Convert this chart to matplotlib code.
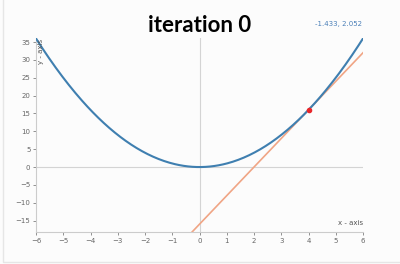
import numpy as np
import matplotlib.pyplot as plt

x_ticks = [-6, -5, -4, -3, -2, -1, 0, 1, 2, 3, 4, 5, 6]
y_ticks = [-15, -10, -5, 0, 5, 10, 15, 20, 25, 30, 35]
point_x = 4
title = 'iteration 0'
corner_text = '-1.433, 2.052'


def f(x):
    return x ** 2


def df(x):
    return 2 * x


def main():
    fig = plt.figure(figsize=(4, 2.64), dpi=100)
    fig.patch.set_facecolor('#fcfcfc')
    ax = fig.add_axes([0.09, 0.121, 0.8175, 0.736])
    ax.set_facecolor('#fcfcfc')

    xs = np.linspace(-6, 6, 300)
    ax.plot(xs, f(xs), color='#3f7fb0', lw=1.5, zorder=3)
    tangent = f(point_x) + df(point_x) * (xs - point_x)
    ax.plot(xs, tangent, color='#f0a585', lw=1.2, zorder=2)
    ax.plot([point_x], [f(point_x)], 'o', color='#e8262a', ms=3, zorder=4)

    ax.axhline(0, color='#d4d4d4', lw=0.8, zorder=1)
    ax.axvline(0, color='#d4d4d4', lw=0.8, zorder=1)

    ax.set_xlim(-6, 6)
    ax.set_ylim(-18.2, 36.2)
    ax.set_xticks(x_ticks)
    ax.set_yticks(y_ticks)
    ax.tick_params(labelsize=5, colors='#666666', length=2, width=0.5, pad=2)
    for s in ['top', 'right']:
        ax.spines[s].set_visible(False)
    for s in ['left', 'bottom']:
        ax.spines[s].set_color('#cccccc')
        ax.spines[s].set_linewidth(0.8)

    ax.text(6, -16.5, 'x - axis', fontsize=5, color='#555555', ha='right', va='bottom')
    ax.text(-5.8, 36, 'y - axis', fontsize=5, color='#555555', rotation=90, ha='center', va='top')

    fig.text(0.5, 0.905, title, fontsize=16, fontweight='bold', family='Lato', ha='center', va='center')
    fig.text(0.905, 0.91, corner_text, fontsize=5, color='#4a7fb8', ha='right', va='center')

    # light frame along the card's left and bottom edges
    fig.add_artist(plt.Rectangle((0.008, 0.008), 1.1, 1.1, transform=fig.transFigure,
                                 fill=False, edgecolor='#e6e6e6', lw=1))

    fig.savefig('out.png', dpi=100, facecolor=fig.get_facecolor())


if __name__ == '__main__':
    main()
